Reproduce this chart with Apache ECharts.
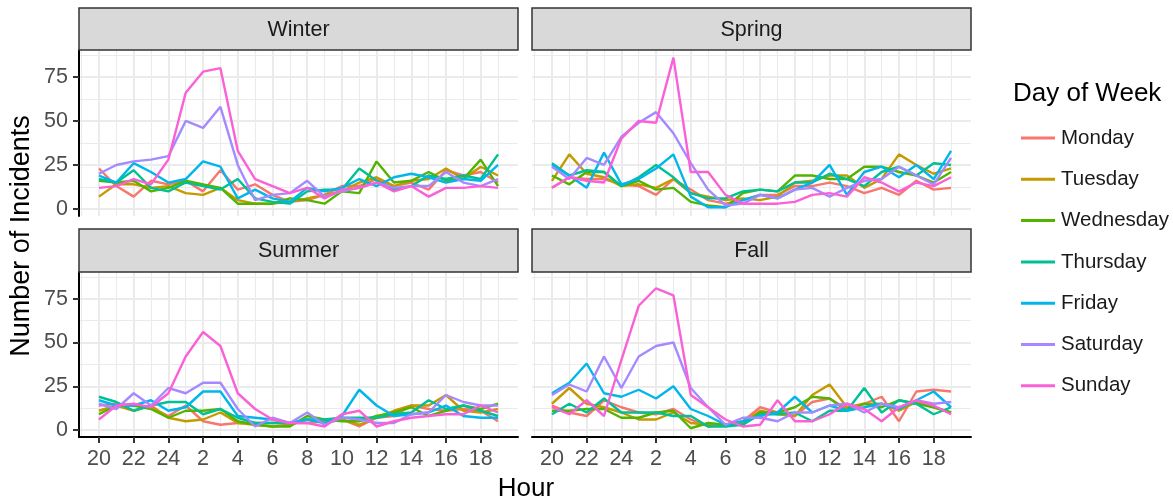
<!DOCTYPE html>
<html><head><meta charset="utf-8">
<script src="https://cdn.jsdelivr.net/npm/echarts@6/dist/echarts.min.js"></script>
<style>html,body{margin:0;padding:0;background:#fff}#c{width:1173px;height:501px}</style>
</head><body><div id="c"></div>
<script>
// ---- data ----
const hours = [20,21,22,23,24,1,2,3,4,5,6,7,8,9,10,11,12,13,14,15,16,17,18,19];
const majorX = [0,2,4,6,8,10,12,14,16,18,20,22];
const minorX = [-1,1,3,5,7,9,11,13,15,17,19,21,23];
const majorY = [0,25,50,75];
const minorY = [12.5,37.5,62.5,87.5];
const days = ['Monday','Tuesday','Wednesday','Thursday','Friday','Saturday','Sunday'];
const seasons = ['Winter','Spring','Summer','Fall'];

const winterData = [
  [23,13,7,16,14,16,10,22,11,14,8,4,5,8,13,13,17,13,15,11,22,19,21,15],
  [7,14,14,12,13,9,8,12,5,3,3,4,6,8,10,15,18,13,16,17,23,17,24,19],
  [16,15,16,10,12,16,14,12,3,3,3,6,5,3,10,9,27,15,16,21,16,17,28,13],
  [17,15,22,12,10,15,13,11,17,6,4,3,10,11,11,23,16,11,13,19,17,19,17,31],
  [19,15,26,21,15,17,27,24,6,11,6,4,12,10,12,17,13,18,20,18,15,17,16,25],
  [20,25,27,28,30,50,46,58,25,5,8,9,16,7,10,12,15,12,13,13,21,15,13,17],
  [12,13,17,14,28,66,78,80,33,17,13,9,12,6,11,12,15,10,13,7,12,12,13,12]
];
const springData = [
  [12,18,17,17,14,13,8,17,11,5,3,5,8,8,13,13,15,13,9,12,8,16,11,12],
  [16,31,20,18,13,14,12,17,9,7,5,6,5,7,15,16,19,19,12,17,31,25,20,23],
  [19,14,21,21,13,16,11,12,4,2,1,9,11,10,19,19,17,17,24,24,21,19,15,21],
  [26,19,22,21,13,18,25,18,9,6,6,10,11,10,15,15,20,17,13,21,24,19,26,25],
  [25,19,12,32,14,17,23,31,7,1,1,5,8,6,11,15,25,8,21,24,18,25,17,33],
  [24,17,29,25,41,49,55,43,26,11,2,3,8,6,11,12,7,12,16,17,24,19,14,29],
  [12,18,16,15,40,50,49,86,21,21,8,3,3,3,4,8,9,7,18,15,10,15,13,18]
];
const summerData = [
  [14,15,14,13,8,14,5,3,4,4,4,4,4,5,6,2,7,8,14,12,11,12,11,5],
  [11,14,11,14,7,5,6,10,4,3,2,3,6,4,6,3,7,11,14,14,20,11,10,12],
  [9,14,14,12,7,11,11,12,5,3,2,2,8,6,5,5,8,10,13,8,11,14,12,15],
  [19,16,11,14,16,16,9,12,7,4,4,4,6,6,7,7,7,9,10,17,12,14,11,8],
  [17,14,14,17,11,13,22,22,8,7,6,4,6,4,8,23,14,8,9,10,14,8,7,7],
  [15,12,21,14,24,21,27,27,12,2,7,4,10,3,7,6,4,4,9,10,20,16,14,14],
  [6,14,15,13,21,42,56,48,21,12,6,4,4,2,9,11,2,5,7,8,9,9,14,10]
];
const fallData = [
  [14,10,8,17,13,10,9,12,6,2,3,5,13,10,8,16,18,12,15,19,5,22,23,22],
  [15,24,15,13,10,6,6,10,4,3,3,4,11,9,8,20,26,13,15,15,11,16,13,10],
  [11,11,12,12,7,7,10,11,1,4,3,3,10,10,13,19,18,11,15,13,17,15,13,10],
  [9,15,10,18,10,10,10,8,8,2,2,3,9,9,10,5,11,11,24,10,17,15,9,13],
  [21,27,38,21,19,23,18,25,12,8,3,5,8,10,19,10,14,11,13,15,12,17,22,13],
  [20,26,22,42,24,42,48,50,24,13,3,7,7,5,10,10,14,15,10,15,13,17,15,16],
  [13,9,17,8,40,71,81,77,20,13,6,2,3,17,5,5,9,15,12,5,13,17,14,9]
];
const seasonData = [winterData, springData, summerData, fallData];

// ---- styling / layout ----
const colors = ['#F8766D','#C49A00','#53B400','#00C094','#00B6EB','#A58AFF','#FB61D7'];
const FONT = '"Liberation Sans", Arial, sans-serif';
const panels = [
  {left:79, top:50, h:166, stripTop:8},
  {left:532, top:50, h:166, stripTop:8},
  {left:79, top:272, h:165, stripTop:229},
  {left:532, top:272, h:165, stripTop:229}
];
const PW = 439;
const XMIN = -1.15, XMAX = 24.15, YMIN = -4, YMAX = 90.3;

const grids = [], xAxes = [], yAxes = [], series = [], graphics = [];
panels.forEach((p, i) => {
  const isLeft = (i % 2 === 0), isBottom = (i >= 2);
  grids.push({left:p.left, top:p.top, width:PW, height:p.h, containLabel:false});
  xAxes.push({
    type:'value', gridIndex:i, min:XMIN, max:XMAX, position:'bottom',
    axisLine:{show:isBottom, onZero:false, lineStyle:{color:'#000', width:2}},
    axisTick:{show:isBottom, customValues:majorX, length:6, lineStyle:{color:'#333', width:2}},
    axisLabel:{show:isBottom, customValues:majorX, formatter:(v)=>String(hours[Math.round(v)]),
      fontSize:21.5, color:'#4D4D4D', fontFamily:FONT, margin:11},
    splitLine:{show:true, lineStyle:{color:'#EBEBEB', width:2}}
  });
  xAxes.push({
    type:'value', gridIndex:i, min:XMIN, max:XMAX, position:'bottom',
    axisLine:{show:false, onZero:false}, axisTick:{show:false, customValues:minorX},
    axisLabel:{show:false, customValues:minorX},
    splitLine:{show:true, lineStyle:{color:'#EBEBEB', width:1.1}}
  });
  yAxes.push({
    type:'value', gridIndex:i, min:YMIN, max:YMAX, position:'left',
    axisLine:{show:isLeft, onZero:false, lineStyle:{color:'#000', width:2}},
    axisTick:{show:isLeft, customValues:majorY, length:6, lineStyle:{color:'#333', width:2}},
    axisLabel:{show:isLeft, customValues:majorY, fontSize:21.5, color:'#4D4D4D', fontFamily:FONT, margin:11},
    splitLine:{show:true, lineStyle:{color:'#EBEBEB', width:2}}
  });
  yAxes.push({
    type:'value', gridIndex:i, min:YMIN, max:YMAX, position:'left',
    axisLine:{show:false, onZero:false}, axisTick:{show:false, customValues:minorY},
    axisLabel:{show:false, customValues:minorY},
    splitLine:{show:true, lineStyle:{color:'#EBEBEB', width:1.1}}
  });
  seasonData[i].forEach((arr, d) => {
    series.push({
      type:'line', name:days[d], xAxisIndex:2*i, yAxisIndex:2*i,
      data:arr.map((v,k)=>[k,v]), symbol:'none', showSymbol:false,
      lineStyle:{width:2.4, color:colors[d]}, itemStyle:{color:colors[d]},
      silent:true, z:3+d
    });
  });
  graphics.push({
    type:'rect', shape:{x:p.left, y:p.stripTop, width:PW, height:p.top - p.stripTop},
    style:{fill:'#D9D9D9', stroke:'#333333', lineWidth:1.5}, z:10
  });
  graphics.push({
    type:'text', x:p.left + PW/2, y:(p.stripTop + p.top)/2 + 1,
    style:{text:seasons[i], fontSize:21.5, fontFamily:FONT, fill:'#1A1A1A', align:'center', verticalAlign:'middle'}, z:11
  });
});
graphics.push({type:'text', x:22, y:236, rotation:Math.PI/2,
  style:{text:'Number of Incidents', fontSize:27, fontFamily:FONT, fill:'#000', align:'center', verticalAlign:'middle'}});
graphics.push({type:'text', x:526, y:489,
  style:{text:'Hour', fontSize:26, fontFamily:FONT, fill:'#000', align:'center', verticalAlign:'middle'}});
graphics.push({type:'text', x:1013, y:94,
  style:{text:'Day of Week', fontSize:26, fontFamily:FONT, fill:'#000', align:'left', verticalAlign:'middle'}});

const chart = echarts.init(document.getElementById('c'), null, {renderer:'canvas'});
chart.setOption({
  animation:false,
  backgroundColor:'#fff',
  grid:grids, xAxis:xAxes, yAxis:yAxes, series:series,
  legend:{data:days, orient:'vertical', left:1016, top:122, icon:'rect', itemWidth:34, itemHeight:3,
    itemGap:19.3, textStyle:{fontSize:20.5, fontFamily:FONT, color:'#1A1A1A', lineHeight:22, padding:[0,0,0,1]}},
  graphic:graphics
});
</script></body></html>
